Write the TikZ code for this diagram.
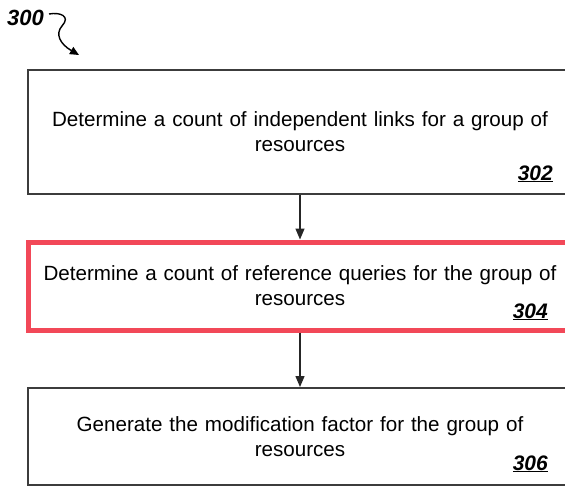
\documentclass[tikz,border=0pt]{standalone}
\usepackage{fontspec}
\setmainfont{Liberation Sans}
\usetikzlibrary{arrows.meta}
\definecolor{boxline}{RGB}{60,60,60}
\definecolor{hilite}{RGB}{242,72,88}
\begin{document}
\begin{tikzpicture}[x=1pt,y=-1pt,
  stepbox/.style={draw=boxline,line width=2pt,minimum width=544pt,text width=540pt,align=center,inner sep=0pt,font=\fontsize{20.6}{25}\selectfont},
  reflabel/.style={font=\bfseries\itshape\fontsize{21}{24}\selectfont,anchor=base east,inner sep=0pt},
  flow/.style={line width=1.3pt,draw=black!85,-{Triangle[width=9pt,length=11pt]}}]
\useasboundingbox (0,0) rectangle (565,487);
\clip (0,0) rectangle (565,487);
\node[stepbox,minimum height=124pt] (s1) at (300,132) {Determine a count of independent links for a group of\\resources};
\node[stepbox,draw=hilite,line width=5pt,minimum height=88pt] (s2) at (300,286) {Determine a count of reference queries for the group of\\resources};
\node[stepbox,minimum height=97pt] (s3) at (300,436.5) {Generate the modification factor for the group of\\resources};
\node[reflabel] (l1) at (553,180) {\underline{302}};
\node[reflabel] (l2) at (548,318) {\underline{304}};
\node[reflabel] (l3) at (548,470) {\underline{306}};
\node[font=\bfseries\itshape\fontsize{22}{24}\selectfont,anchor=base west,inner sep=0pt] (fig) at (7,26) {300};
\coordinate (start) at (49,14);
\coordinate (tip) at (79,55);
\draw[line width=1.4pt,-{Triangle[width=8pt,length=9pt]}] (start) .. controls (60,12) and (71,16) .. (62,26) .. controls (55,34) and (60,44) .. (tip);
\draw[flow] (s1.south) -- (s2.north);
\draw[flow] (s2.south) -- (s3.north);
\end{tikzpicture}
\end{document}
